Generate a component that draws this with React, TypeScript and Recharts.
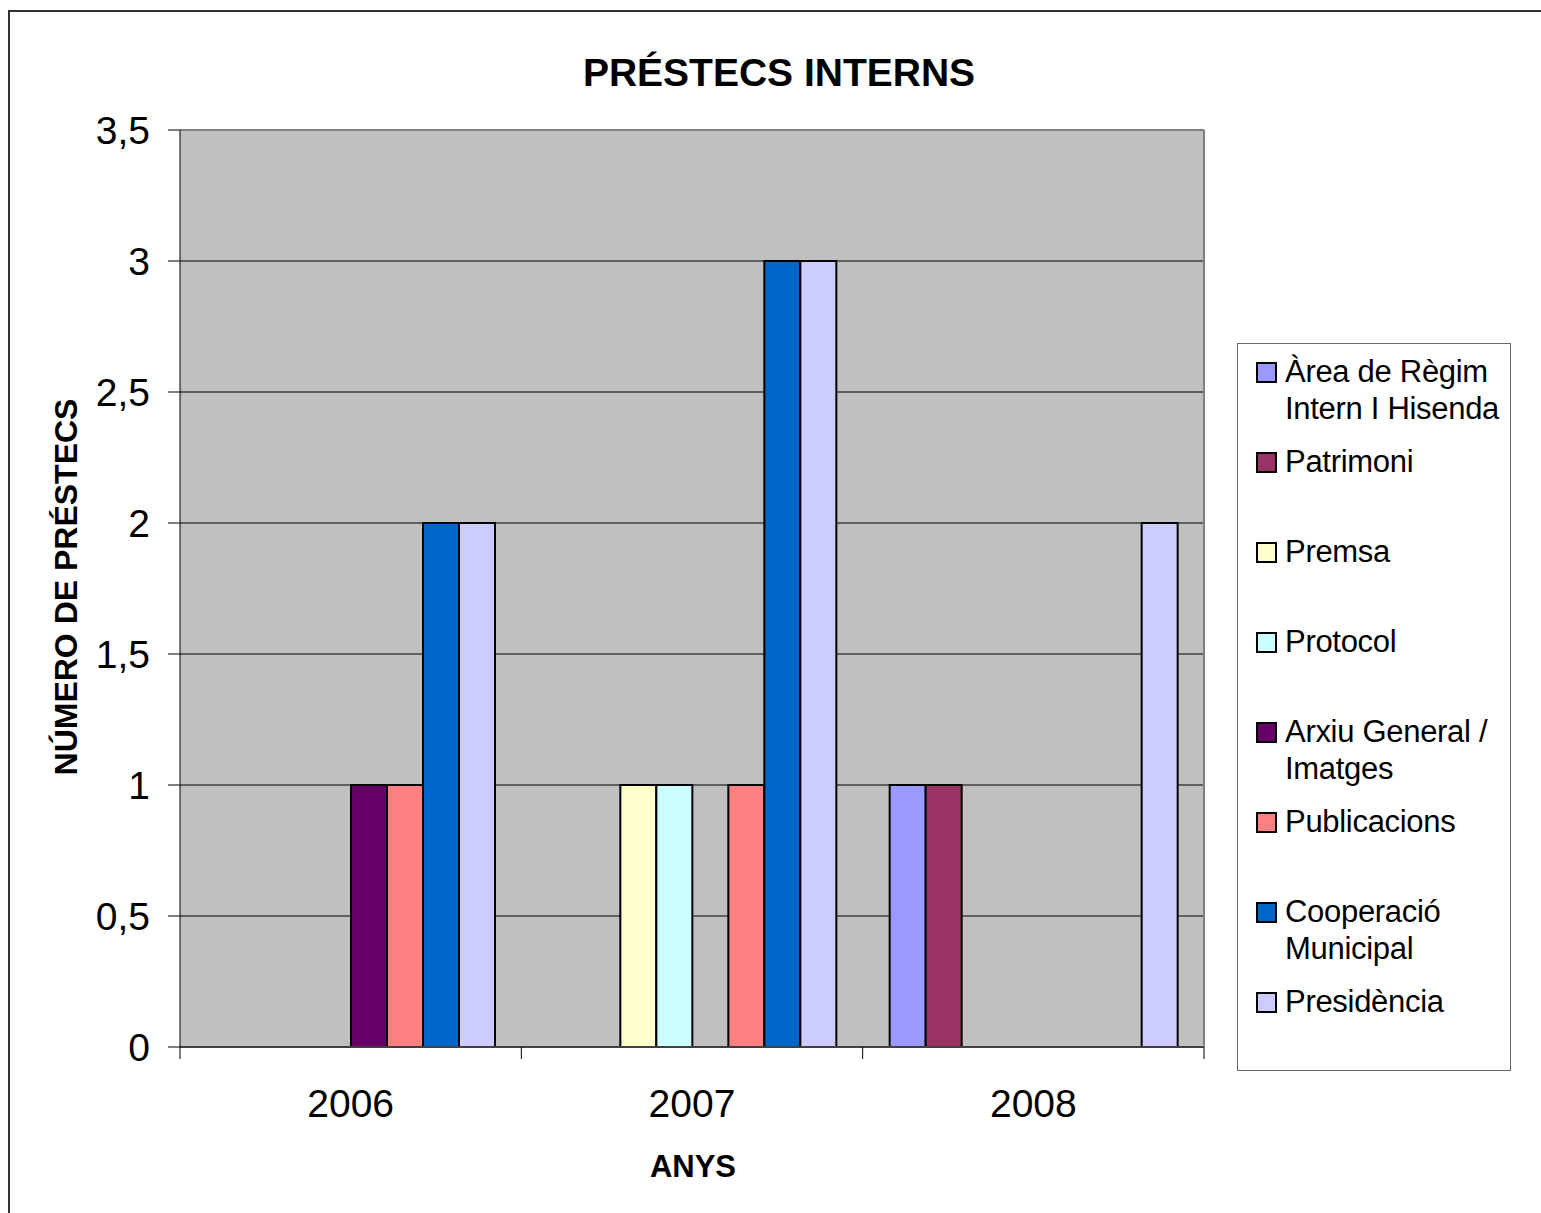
import React from 'react';
import { BarChart, Bar, XAxis, YAxis, CartesianGrid, Legend, ReferenceLine } from 'recharts';

const years = ['2006', '2007', '2008'];

const seriesNames = [
  'Àrea de Règim Intern I Hisenda',
  'Patrimoni',
  'Premsa',
  'Protocol',
  'Arxiu General / Imatges',
  'Publicacions',
  'Cooperació Municipal',
  'Presidència',
];

// how the legend box breaks the longer names
const legendLabels = [
  'Àrea de Règim\nIntern I Hisenda',
  'Patrimoni',
  'Premsa',
  'Protocol',
  'Arxiu General /\nImatges',
  'Publicacions',
  'Cooperació\nMunicipal',
  'Presidència',
];

const seriesColors = ['#9999FF', '#993366', '#FFFFCC', '#CCFFFF', '#660066', '#FF8080', '#0066CC', '#CCCCFF'];

const area = [0, 0, 1];
const patrimoni = [0, 0, 1];
const premsa = [0, 1, 0];
const protocol = [0, 1, 0];
const arxiu = [1, 0, 0];
const publicacions = [1, 1, 0];
const cooperacio = [2, 3, 0];
const presidencia = [2, 3, 2];

const seriesValues = [area, patrimoni, premsa, protocol, arxiu, publicacions, cooperacio, presidencia];
const seriesKeys = seriesNames.map((_, i) => `s${i}`);

const yTicks = [0, 0.5, 1, 1.5, 2, 2.5, 3, 3.5];

const data = years.map((year, i) => {
  const row: Record<string, string | number> = { year };
  seriesKeys.forEach((k, s) => {
    row[k] = seriesValues[s][i];
  });
  return row;
});

const FONT = '"Liberation Sans", Arial, sans-serif';
const W = 1541;
const H = 1213;
const PLOT_LEFT = 180;
const PLOT_RIGHT = 1204;
const PLOT_TOP = 130;
const PLOT_BOTTOM = 1047;
const Y_AXIS_W = 100;
const X_AXIS_H = 60;
const TICK = 12;
const X_TICK_GAP = 30;
const BAND = (PLOT_RIGHT - PLOT_LEFT) / years.length;

const XTick = (props: any) => {
  const { x, y, payload, index } = props;
  const axisY = y - TICK - X_TICK_GAP;
  const half = BAND / 2;
  return (
    <g>
      <line x1={x - half} y1={axisY} x2={x - half} y2={axisY + TICK} stroke="#000" />
      {index === years.length - 1 && (
        <line x1={x + half} y1={axisY} x2={x + half} y2={axisY + TICK} stroke="#000" />
      )}
      <text x={x} y={y} dy="0.71em" textAnchor="middle" fontSize={39} fill="#000" fontFamily={FONT}>
        {payload.value}
      </text>
    </g>
  );
};

const renderLegend = (props: any) => {
  // keep the series order, not the alphabetical one
  const items = [...(props.payload || [])].sort(
    (a: any, b: any) => seriesNames.indexOf(a.value) - seriesNames.indexOf(b.value)
  );
  return (
    <div
      style={{
        boxSizing: 'border-box',
        width: 274,
        height: 728,
        border: '1.5px solid #666',
        background: '#fff',
        position: 'relative',
        fontFamily: FONT,
        fontSize: 31,
        color: '#000',
      }}
    >
      {items.map((entry: any, i: number) => {
        const idx = seriesNames.indexOf(entry.value);
        return (
          <div
            key={entry.value}
            style={{ position: 'absolute', left: 18, top: 9 + i * 90, display: 'flex', alignItems: 'flex-start' }}
          >
            <span
              style={{
                width: 21,
                height: 21,
                boxSizing: 'border-box',
                border: '2px solid #000',
                background: entry.color,
                marginTop: 9,
                marginRight: 8,
                flex: 'none',
              }}
            />
            <span style={{ lineHeight: '37px', whiteSpace: 'pre-line', letterSpacing: '-0.3px' }}>
              {legendLabels[idx]}
            </span>
          </div>
        );
      })}
    </div>
  );
};

const App: React.FC = () => {
  return (
    <div style={{ position: 'fixed', left: 0, top: 0, width: W, height: H, overflow: 'hidden', background: '#fff' }}>
      <div
        style={{
          position: 'absolute',
          left: 8,
          top: 10,
          width: 2000,
          height: 2000,
          borderTop: '2px solid #333',
          borderLeft: '2px solid #333',
        }}
      />
      <div style={{ position: 'absolute', left: 0, top: 0 }}>
        <BarChart
          width={W}
          height={H}
          data={data}
          margin={{
            top: PLOT_TOP,
            right: W - PLOT_RIGHT - 1,
            bottom: H - PLOT_BOTTOM - X_AXIS_H,
            left: PLOT_LEFT - Y_AXIS_W,
          }}
          barCategoryGap={27}
          barGap={0}
        >
          <CartesianGrid
            vertical={false}
            fill="#C0C0C0"
            fillOpacity={1}
            stroke="#000"
            horizontalValues={yTicks.filter((t) => t > 0 && t < 3.5)}
          />
          <XAxis
            dataKey="year"
            height={X_AXIS_H}
            tick={<XTick />}
            tickLine={false}
            tickSize={TICK}
            tickMargin={X_TICK_GAP}
            axisLine={{ stroke: '#404040', strokeWidth: 2 }}
            interval={0}
          />
          <YAxis
            width={Y_AXIS_W}
            domain={[0, 3.5]}
            ticks={yTicks}
            interval={0}
            tickFormatter={(v: number) => String(v).replace('.', ',')}
            tick={{ fontSize: 39, fill: '#000', fontFamily: FONT }}
            tickSize={TICK}
            tickMargin={18}
            tickLine={{ stroke: '#000' }}
            axisLine={{ stroke: '#000' }}
          />
          <YAxis
            yAxisId="border"
            orientation="right"
            width={1}
            domain={[0, 3.5]}
            tick={false}
            tickLine={false}
            axisLine={{ stroke: '#808080', strokeWidth: 2 }}
          />
          <ReferenceLine y={3.5} stroke="#808080" strokeWidth={2} />
          <Legend
            layout="horizontal"
            verticalAlign="middle"
            align="center"
            wrapperStyle={{ left: 1237, top: 343, width: 274, height: 728 }}
            content={renderLegend}
          />
          {seriesNames.map((name, i) => (
            <Bar
              key={name}
              dataKey={seriesKeys[i]}
              name={name}
              fill={seriesColors[i]}
              stroke="#000"
              strokeWidth={2}
              isAnimationActive={false}
            />
          ))}
          <text x={779} y={86} textAnchor="middle" fontSize={39} fontWeight="bold" fill="#000" fontFamily={FONT}>
            PRÉSTECS INTERNS
          </text>
          <text x={693} y={1177} textAnchor="middle" fontSize={31} fontWeight="bold" fill="#000" fontFamily={FONT}>
            ANYS
          </text>
          <text
            x={77}
            y={587}
            textAnchor="middle"
            fontSize={32}
            fontWeight="bold"
            fill="#000"
            fontFamily={FONT}
            transform="rotate(-90, 77, 587)"
          >
            NÚMERO DE PRÉSTECS
          </text>
        </BarChart>
      </div>
    </div>
  );
};

export default App;
